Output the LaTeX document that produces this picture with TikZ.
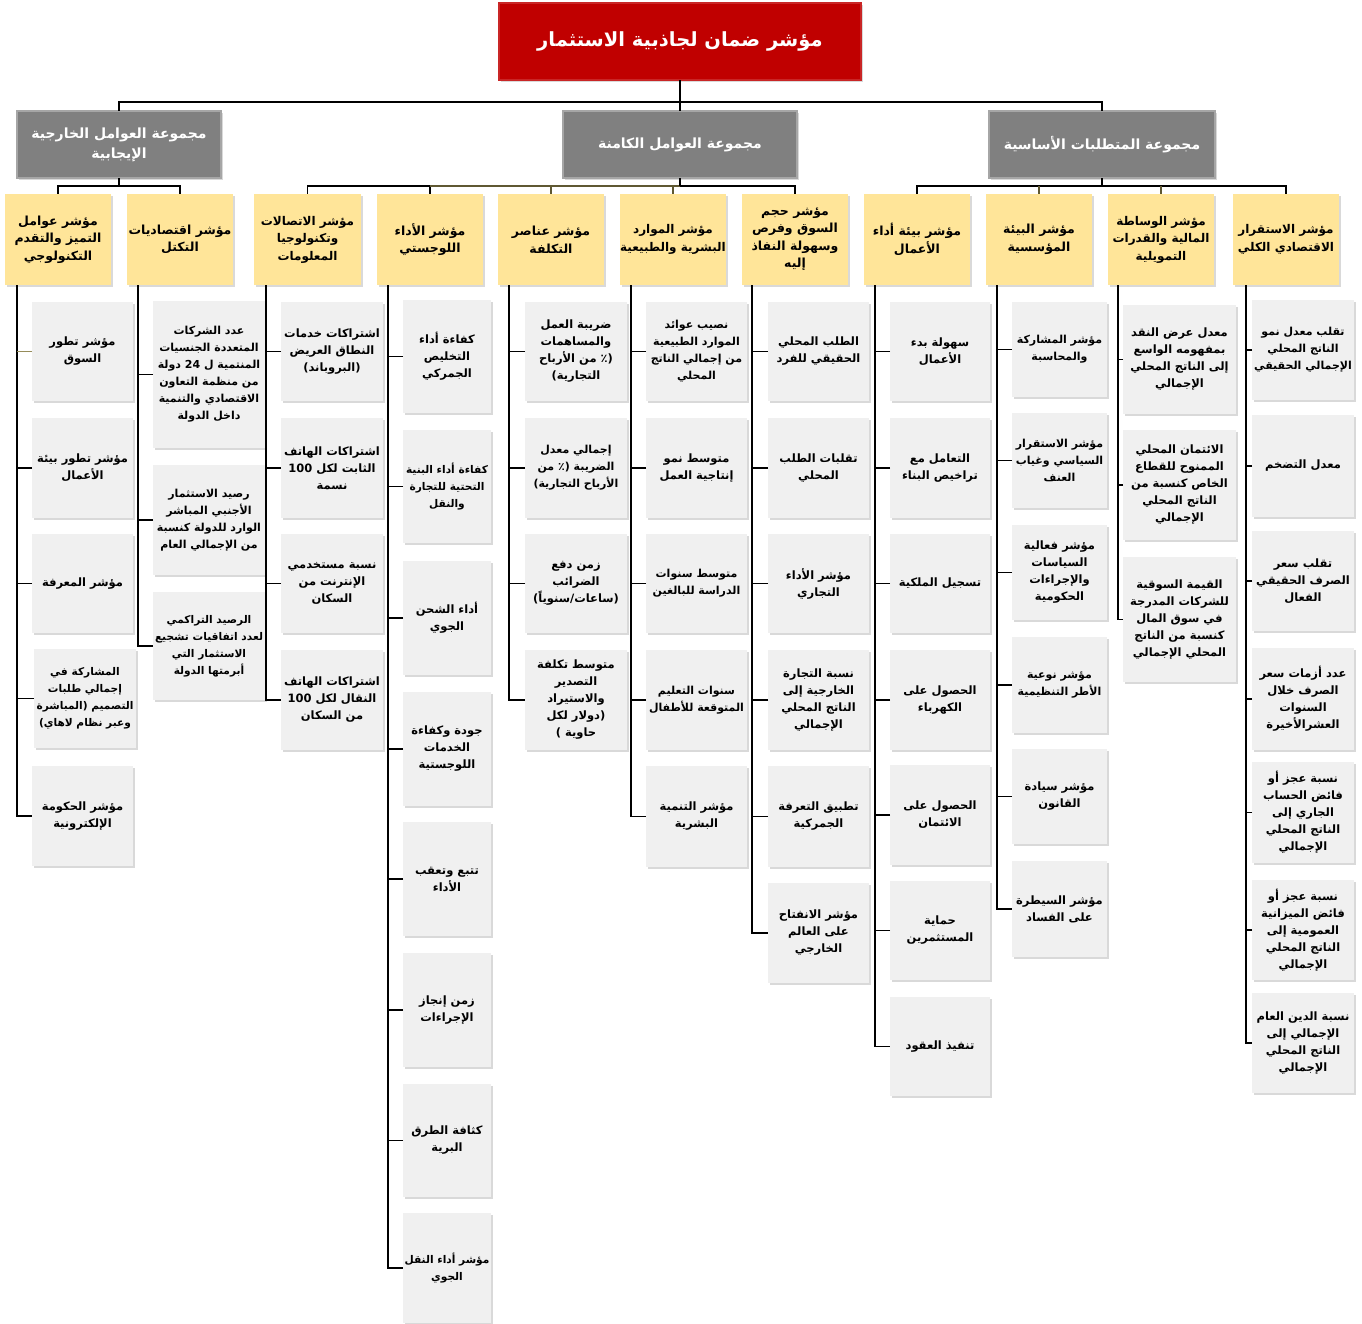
\documentclass[tikz,border=0pt]{standalone}
\usepackage{fontspec}
\newfontfamily\arabicfont[Script=Arabic]{DejaVu Sans}
\TeXXeTstate=1
\usetikzlibrary{shadows}
\definecolor{hdr}{RGB}{255,229,153}
\definecolor{cellg}{RGB}{240,240,240}
\definecolor{grp}{RGB}{128,128,128}
\definecolor{ttl}{RGB}{192,0,0}
\definecolor{lineolive}{RGB}{150,140,90}
\definecolor{darkolive}{RGB}{95,88,50}
\newcommand\rl[1]{\beginR #1\endR}
\newcommand\bx[7]{\node[#1, minimum width={#5-#3}, minimum height={#6-#4}] (#2) at ({(#3+#5)/2},{(#4+#6)/2}) {#7};}
\begin{document}
\begin{tikzpicture}[x=1pt,y=-1pt,
  shd/.style={drop shadow={shadow xshift=1.5pt,shadow yshift=-1.5pt,opacity=0.3}},
  cell/.style={fill=cellg, align=center, inner sep=0pt, outer sep=0pt, shd,
    font=\arabicfont\bfseries\fontsize{11.5}{17}\selectfont},
  sm/.style={font=\arabicfont\bfseries\fontsize{11}{17}\selectfont},
  xs/.style={font=\arabicfont\bfseries\fontsize{10.6}{17}\selectfont},
  flat/.style={cell, drop shadow={opacity=0}},
  head/.style={cell, fill=hdr, font=\arabicfont\bfseries\fontsize{12.5}{17.5}\selectfont},
  smh/.style={font=\arabicfont\bfseries\fontsize{12}{17.5}\selectfont},
  grpbox/.style={fill=grp, draw=gray!70, line width=1.5pt, text=white, align=center, outer sep=0pt, shd,
    font=\arabicfont\bfseries\fontsize{14}{20}\selectfont},
  ttlbox/.style={fill=ttl, draw=ttl!85!white, line width=1.5pt, text=white, align=center, outer sep=0pt, shd,
    font=\arabicfont\bfseries\fontsize{19.5}{24}\selectfont},
  conn/.style={line width=1.6pt, black},
  olv/.style={line width=1.6pt, darkolive}]
\useasboundingbox (0,0) rectangle (1362,1323);

% title and groups
\bx{ttlbox}{title}{499}{3}{861}{80}{\rl{مؤشر ضمان لجاذبية الاستثمار}}
\bx{grpbox}{g1}{17}{111}{221}{178}{\rl{مجموعة العوامل الخارجية}\\\rl{الإيجابية}}
\bx{grpbox}{g2}{563}{111}{797}{178}{\rl{مجموعة العوامل الكامنة}}
\bx{grpbox}{g3}{989}{111}{1215}{178}{\rl{مجموعة المتطلبات الأساسية}}

% headers
\bx{head}{h1}{5}{194}{111}{285}{\rl{مؤشر عوامل}\\\rl{التميز والتقدم}\\\rl{التكنولوجي}}
\bx{head}{h2}{127}{194}{233}{285}{\rl{مؤشر اقتصاديات}\\\rl{التكتل}}
\bx{head,smh}{h3}{254}{194}{361}{285}{\rl{مؤشر الاتصالات}\\\rl{وتكنولوجيا}\\\rl{المعلومات}}
\bx{head}{h4}{377}{194}{483}{285}{\rl{مؤشر الأداء}\\\rl{اللوجستي}}
\bx{head}{h5}{498}{194}{604}{285}{\rl{مؤشر عناصر}\\\rl{التكلفة}}
\bx{head,smh}{h6}{620}{194}{726}{285}{\rl{مؤشر الموارد}\\\rl{البشرية والطبيعية}}
\bx{head}{h7}{742}{194}{848}{285}{\rl{مؤشر حجم}\\\rl{السوق وفرص}\\\rl{وسهولة النفاذ}\\\rl{إليه}}
\bx{head}{h8}{864}{194}{970}{285}{\rl{مؤشر بيئة أداء}\\\rl{الأعمال}}
\bx{head}{h9}{986}{194}{1092}{285}{\rl{مؤشر البيئة}\\\rl{المؤسسية}}
\bx{head,smh}{h10}{1108}{194}{1214}{285}{\rl{مؤشر الوساطة}\\\rl{المالية والقدرات}\\\rl{التمويلية}}
\bx{head,smh}{h11}{1233}{194}{1339}{285}{\rl{مؤشر الاستقرار}\\\rl{الاقتصادي الكلي}}

% column 1
\bx{cell}{a1}{32}{302}{133}{401}{\rl{مؤشر تطور}\\\rl{السوق}}
\bx{cell}{a2}{32}{418}{133}{518}{\rl{مؤشر تطور بيئة}\\\rl{الأعمال}}
\bx{cell}{a3}{32}{534}{133}{633}{\rl{مؤشر المعرفة}}
\bx{cell,xs}{a4}{34}{649}{136}{748}{\rl{المشاركة في}\\\rl{إجمالي طلبات}\\\rl{التصميم (المباشرة}\\\rl{وعبر نظام لاهاي)}}
\bx{cell}{a5}{32}{766}{133}{866}{\rl{مؤشر الحكومة}\\\rl{الإلكترونية}}
% column 2
\bx{cell,sm}{b1}{153}{301}{265}{448}{\rl{عدد الشركات}\\\rl{المتعددة الجنسيات}\\\rl{المنتمية ل 24 دولة}\\\rl{من منظمة التعاون}\\\rl{الاقتصادي والتنمية}\\\rl{داخل الدولة}}
\bx{cell,sm}{b2}{153}{465}{265}{575}{\rl{رصيد الاستثمار}\\\rl{الأجنبي المباشر}\\\rl{الوارد للدولة كنسبة}\\\rl{من الإجمالي العام}}
\bx{cell,xs}{b3}{153}{592}{265}{700}{\rl{الرصيد التراكمي}\\\rl{لعدد اتفاقيات تشجيع}\\\rl{الاستثمار التي}\\\rl{أبرمتها الدولة}}
% column 3
\bx{cell}{c1}{281}{302}{383}{401}{\rl{اشتراكات خدمات}\\\rl{النطاق العريض}\\\rl{(البروباند)}}
\bx{cell}{c2}{281}{418}{383}{518}{\rl{اشتراكات الهاتف}\\\rl{الثابت لكل 100}\\\rl{نسمة}}
\bx{cell}{c3}{281}{534}{383}{633}{\rl{نسبة مستخدمي}\\\rl{الإنترنت من}\\\rl{السكان}}
\bx{cell}{c4}{281}{650}{383}{750}{\rl{اشتراكات الهاتف}\\\rl{النقال لكل 100}\\\rl{من السكان}}
% column 4
\bx{flat}{d1}{403}{300}{491}{413}{\rl{كفاءة أداء}\\\rl{التخليص}\\\rl{الجمركي}}
\bx{flat,xs}{d2}{403}{430}{491}{543}{\rl{كفاءة أداء البنية}\\\rl{التحتية للتجارة}\\\rl{والنقل}}
\bx{flat}{d3}{403}{561}{491}{675}{\rl{أداء الشحن}\\\rl{الجوي}}
\bx{flat}{d4}{403}{692}{491}{806}{\rl{جودة وكفاءة}\\\rl{الخدمات}\\\rl{اللوجستية}}
\bx{flat}{d5}{403}{822}{491}{936}{\rl{تتبع وتعقب}\\\rl{الأداء}}
\bx{flat}{d6}{403}{953}{491}{1067}{\rl{زمن إنجاز}\\\rl{الإجراءات}}
\bx{flat}{d7}{403}{1084}{491}{1197}{\rl{كثافة الطرق}\\\rl{البرية}}
\bx{flat,xs}{d8}{403}{1213}{491}{1323}{\rl{مؤشر أداء النقل}\\\rl{الجوي}}
% column 5
\bx{cell}{e1}{525}{302}{627}{401}{\rl{ضريبة العمل}\\\rl{والمساهمات}\\\rl{(٪ من الأرباح}\\\rl{التجارية)}}
\bx{cell,sm}{e2}{525}{418}{627}{518}{\rl{إجمالي معدل}\\\rl{الضريبة (٪ من}\\\rl{الأرباح التجارية)}}
\bx{cell}{e3}{525}{534}{627}{633}{\rl{زمن دفع}\\\rl{الضرائب}\\\rl{(ساعات/سنوياً)}}
\bx{cell}{e4}{525}{650}{627}{750}{\rl{متوسط تكلفة}\\\rl{التصدير}\\\rl{والاستيراد}\\\rl{(دولار لكل}\\\rl{حاوية )}}
% column 6
\bx{cell,sm}{f1}{646}{302}{747}{401}{\rl{نصيب عوائد}\\\rl{الموارد الطبيعية}\\\rl{من إجمالي الناتج}\\\rl{المحلي}}
\bx{cell}{f2}{646}{418}{747}{518}{\rl{متوسط نمو}\\\rl{إنتاجية العمل}}
\bx{cell,sm}{f3}{646}{534}{747}{633}{\rl{متوسط سنوات}\\\rl{الدراسة للبالغين}}
\bx{cell,sm}{f4}{646}{650}{747}{750}{\rl{سنوات التعليم}\\\rl{المتوقعة للأطفال}}
\bx{cell}{f5}{646}{766}{747}{867}{\rl{مؤشر التنمية}\\\rl{البشرية}}
% column 7
\bx{cell}{k1}{768}{302}{869}{401}{\rl{الطلب المحلي}\\\rl{الحقيقي للفرد}}
\bx{cell}{k2}{768}{418}{869}{518}{\rl{تقلبات الطلب}\\\rl{المحلي}}
\bx{cell}{k3}{768}{534}{869}{633}{\rl{مؤشر الأداء}\\\rl{التجاري}}
\bx{cell}{k4}{768}{650}{869}{750}{\rl{نسبة التجارة}\\\rl{الخارجية إلى}\\\rl{الناتج المحلي}\\\rl{الإجمالي}}
\bx{cell}{k5}{768}{766}{869}{867}{\rl{تطبيق التعرفة}\\\rl{الجمركية}}
\bx{cell}{k6}{768}{883}{869}{983}{\rl{مؤشر الانفتاح}\\\rl{على العالم}\\\rl{الخارجي}}
% column 8
\bx{flat}{m1}{890}{302}{990}{401}{\rl{سهولة بدء}\\\rl{الأعمال}}
\bx{flat}{m2}{890}{418}{990}{518}{\rl{التعامل مع}\\\rl{تراخيص البناء}}
\bx{flat}{m3}{890}{534}{990}{633}{\rl{تسجيل الملكية}}
\bx{flat}{m4}{890}{650}{990}{750}{\rl{الحصول على}\\\rl{الكهرباء}}
\bx{flat}{m5}{890}{765}{990}{865}{\rl{الحصول على}\\\rl{الائتمان}}
\bx{flat}{m6}{890}{881}{990}{980}{\rl{حماية}\\\rl{المستثمرين}}
\bx{flat}{m7}{890}{997}{990}{1096}{\rl{تنفيذ العقود}}
% column 9
\bx{flat,sm}{n1}{1012}{302}{1107}{397}{\rl{مؤشر المشاركة}\\\rl{والمحاسبة}}
\bx{flat,sm}{n2}{1012}{413}{1107}{508}{\rl{مؤشر الاستقرار}\\\rl{السياسي وغياب}\\\rl{العنف}}
\bx{flat}{n3}{1012}{525}{1107}{620}{\rl{مؤشر فعالية}\\\rl{السياسات}\\\rl{والإجراءات}\\\rl{الحكومية}}
\bx{flat,sm}{n4}{1012}{637}{1107}{733}{\rl{مؤشر نوعية}\\\rl{الأطر التنظيمية}}
\bx{flat}{n5}{1012}{749}{1107}{844}{\rl{مؤشر سيادة}\\\rl{القانون}}
\bx{flat}{n6}{1012}{861}{1107}{957}{\rl{مؤشر السيطرة}\\\rl{على الفساد}}
% column 10
\bx{cell}{p1}{1123}{305}{1236}{414}{\rl{معدل عرض النقد}\\\rl{بمفهومه الواسع}\\\rl{إلى الناتج المحلي}\\\rl{الإجمالي}}
\bx{cell}{p2}{1123}{430}{1236}{540}{\rl{الائتمان المحلي}\\\rl{الممنوح للقطاع}\\\rl{الخاص كنسبة من}\\\rl{الناتج المحلي}\\\rl{الإجمالي}}
\bx{cell}{p3}{1123}{557}{1236}{682}{\rl{القيمة السوقية}\\\rl{للشركات المدرجة}\\\rl{في سوق المال}\\\rl{كنسبة من الناتج}\\\rl{المحلي الإجمالي}}
% column 11
\bx{cell,sm}{q1}{1252}{300}{1354}{400}{\rl{تقلب معدل نمو}\\\rl{الناتج المحلي}\\\rl{الإجمالي الحقيقي}}
\bx{cell}{q2}{1252}{415}{1354}{517}{\rl{معدل التضخم}}
\bx{cell}{q3}{1252}{531}{1354}{631}{\rl{تقلب سعر}\\\rl{الصرف الحقيقي}\\\rl{الفعال}}
\bx{cell}{q4}{1252}{648}{1354}{750}{\rl{عدد أزمات سعر}\\\rl{الصرف خلال}\\\rl{السنوات}\\\rl{العشرالأخيرة}}
\bx{cell}{q5}{1252}{762}{1354}{863}{\rl{نسبة عجز أو}\\\rl{فائض الحساب}\\\rl{الجاري إلى}\\\rl{الناتج المحلي}\\\rl{الإجمالي}}
\bx{cell}{q6}{1252}{880}{1354}{980}{\rl{نسبة عجز أو}\\\rl{فائض الميزانية}\\\rl{العمومية إلى}\\\rl{الناتج المحلي}\\\rl{الإجمالي}}
\bx{cell}{q7}{1252}{993}{1354}{1093}{\rl{نسبة الدين العام}\\\rl{الإجمالي إلى}\\\rl{الناتج المحلي}\\\rl{الإجمالي}}

% tree connectors
\coordinate (tb) at (0,102);
\coordinate (gb) at (0,186);
\draw[conn] (title.south) -- (g2.north);
\draw[conn] (title.south) -- (title.south |- tb) -| (g1.north);
\draw[conn] (title.south) -- (title.south |- tb) -| (g3.north);
\foreach \h in {h1,h2}
  \draw[conn] (g1.south) -- (g1.south |- gb) -| (\h.north);
\foreach \h in {h3,h4,h7}
  \draw[conn] (g2.south) -- (g2.south |- gb) -| (\h.north);
\foreach \h in {h5,h6}
  \draw[olv] (g2.south |- gb) -| (\h.north);
\draw[olv] (g2.south |- gb) -- (h4.north |- gb);
\draw[conn] (g2.south) -- (g2.south |- gb);
\foreach \h in {h8,h11}
  \draw[conn] (g3.south) -- (g3.south |- gb) -| (\h.north);
\draw[olv] (h9.north |- gb) -- (h9.north);
\draw[olv] (h10.north |- gb) -- (h10.north);

% spines
\coordinate (s1) at (17,285);
\coordinate (s2) at (138,285);
\coordinate (s3) at (266,285);
\coordinate (s4) at (388,285);
\coordinate (s5) at (509,285);
\coordinate (s6) at (631,285);
\coordinate (s7) at (752,285);
\coordinate (s8) at (875,285);
\coordinate (s9) at (997,285);
\coordinate (s10) at (1118,285);
\coordinate (s11) at (1246,285);
\draw[conn] (s1) |- (a5.west);
\draw[conn] (s2) |- (b3.west);
\draw[conn] (s3) |- (c4.west);
\draw[conn] (s4) |- (d8.west);
\draw[conn] (s5) |- (e4.west);
\draw[conn] (s6) |- (f5.west);
\draw[conn] (s7) |- (k6.west);
\draw[conn] (s8) |- (m7.west);
\draw[conn] (s9) |- (n6.west);
\draw[conn] (s10) |- (p3.west);
\draw[conn] (s11) |- (q7.west);
\draw[line width=1pt, lineolive] (a1.west) -- (a1.west -| s1);
\foreach \b in {a2,a3,a4} \draw[conn] (\b.west) -- (\b.west -| s1);
\foreach \b in {b1,b2} \draw[conn] (\b.west) -- (\b.west -| s2);
\foreach \b in {c1,c2,c3} \draw[conn] (\b.west) -- (\b.west -| s3);
\foreach \b in {d1,d2,d3,d4,d5,d6,d7} \draw[conn] (\b.west) -- (\b.west -| s4);
\foreach \b in {e1,e2,e3} \draw[conn] (\b.west) -- (\b.west -| s5);
\foreach \b in {f1,f2,f3,f4} \draw[conn] (\b.west) -- (\b.west -| s6);
\foreach \b in {k1,k2,k3,k4,k5} \draw[conn] (\b.west) -- (\b.west -| s7);
\foreach \b in {m1,m2,m3,m4,m5,m6} \draw[conn] (\b.west) -- (\b.west -| s8);
\foreach \b in {n1,n2,n3,n4,n5} \draw[conn] (\b.west) -- (\b.west -| s9);
\foreach \b in {p1,p2} \draw[conn] (\b.west) -- (\b.west -| s10);
\foreach \b in {q1,q2,q3,q4,q5,q6} \draw[conn] (\b.west) -- (\b.west -| s11);
\end{tikzpicture}
\end{document}
